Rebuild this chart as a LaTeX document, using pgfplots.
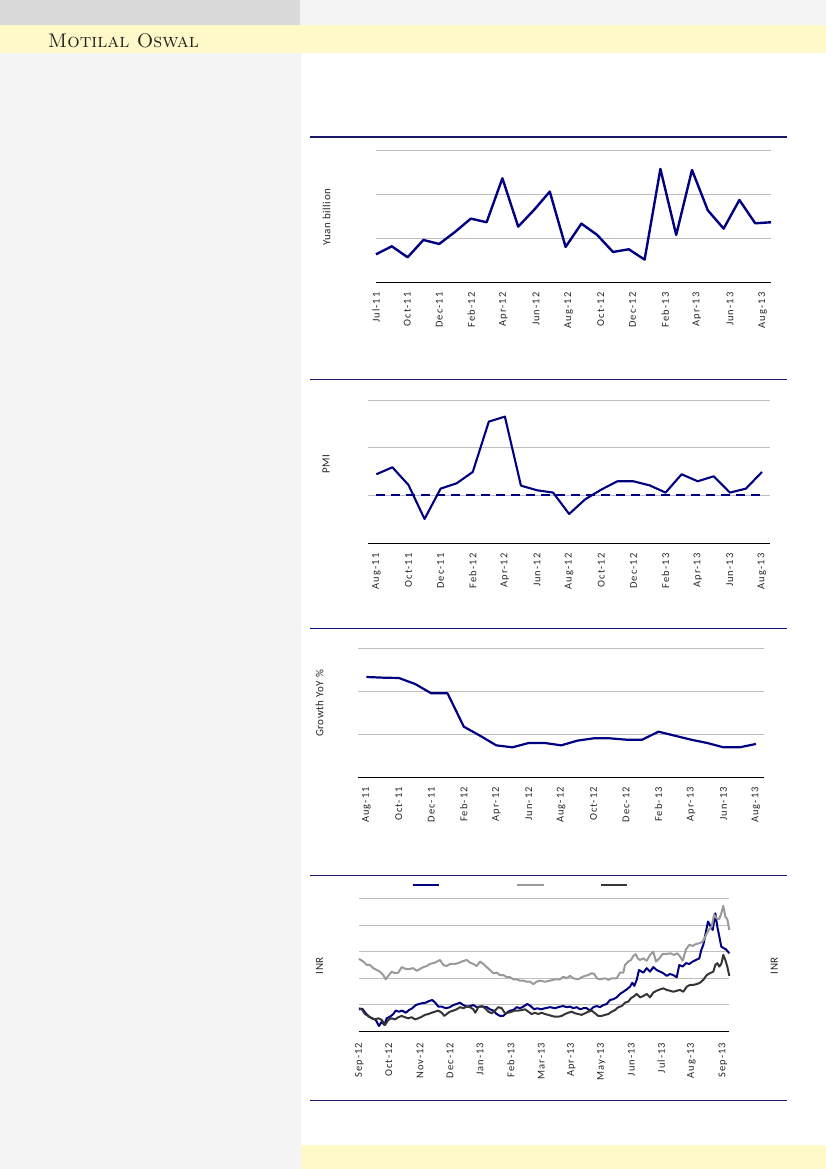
\documentclass[border=0pt]{standalone}
\usepackage{fontspec}
\usepackage{pgfplots}
\pgfplotsset{compat=1.18}
\newfontfamily\tickfont[LetterSpace=10]{Carlito}
\newfontfamily\labfont[LetterSpace=5]{Carlito}
\definecolor{navy}{HTML}{000080}
\definecolor{rulenavy}{HTML}{1A1866}
\definecolor{rulenavyb}{HTML}{0D0D85}
\definecolor{gridgray}{HTML}{BFBFBF}
\definecolor{sidegray}{HTML}{F4F4F4}
\definecolor{topgray}{HTML}{DADADA}
\definecolor{banner}{HTML}{FFF8C8}
\definecolor{ltgray}{HTML}{9A9A9A}
\definecolor{dkgray}{HTML}{353535}
\definecolor{headtext}{HTML}{231F20}

\pgfplotsset{
  mos/.style={
    scale only axis,
    axis line style={draw=none},
    major tick length=0pt,
    ymajorgrids,
    grid style={gridgray, line width=0.9pt},
    ytick={1,2,3},
    yticklabels={},
    xticklabel shift=10pt,
    xticklabel style={rotate=90, anchor=east, inner sep=0pt,
      font=\tickfont\fontsize{10.5}{12}\selectfont, text=black!85},
    ylabel style={font=\labfont\fontsize{11}{13}\selectfont, text=black!85, anchor=center},
    clip=false,
  },
}

\begin{document}
\begin{tikzpicture}
\useasboundingbox (0,0) rectangle (826pt,1169pt);
% page background
\fill[white] (0,0) rectangle (826pt,1169pt);
\fill[sidegray] (0,0) rectangle (301pt,1116pt);
\fill[topgray] (0,1144pt) rectangle (300pt,1169pt);
\fill[sidegray] (300pt,1144pt) rectangle (826pt,1169pt);
\fill[banner] (0,1116pt) rectangle (826pt,1144pt);
\fill[banner] (301pt,0) rectangle (826pt,24pt);
\node[anchor=base west, inner sep=0pt, text=headtext] at (47.7pt,1121.3pt)
  {\fontsize{19.6}{20}\selectfont\textsc{Motilal Oswal}};

% section rules
\draw[rulenavy, line width=1.3pt] (310pt,1032pt) -- (787pt,1032pt);
\draw[rulenavy, line width=1.3pt] (310pt,789.7pt) -- (787pt,789.7pt);
\draw[rulenavyb, line width=1.3pt] (310pt,540.7pt) -- (787pt,540.7pt);
\draw[rulenavy, line width=1.3pt] (310pt,293.7pt) -- (787pt,293.7pt);
\draw[rulenavy, line width=1.3pt] (310pt,68.3pt) -- (787pt,68.3pt);

% ---- chart 1: Yuan billion
\begin{axis}[mos, at={(376pt,886.7pt)}, anchor=south west,
  width=395pt, height=132pt,
  xmin=0, xmax=25, ymin=0, ymax=3,
  xtick={0,1.98,4.01,6.03,8.06,10.13,12.19,14.22,16.24,18.31,20.3,22.4,24.47},
  xticklabels={Jul-11,Oct-11,Dec-11,Feb-12,Apr-12,Jun-12,Aug-12,Oct-12,Dec-12,Feb-13,Apr-13,Jun-13,Aug-13},
  ylabel={Yuan billion},
  ylabel style={at={(axis description cs:-0.1248,0.492)}},
]
\draw[black, line width=0.9pt] (rel axis cs:0,0) -- (rel axis cs:1,0);
\addplot[navy, line width=2.4pt, line join=round] table {
x y
0 0.636
1 0.818
2 0.568
3 0.962
4 0.871
5 1.144
6 1.447
7 1.364
8 2.364
9 1.265
10 1.644
11 2.061
12 0.803
13 1.333
14 1.076
15 0.689
16 0.750
17 0.515
18 2.576
19 1.076
20 2.553
21 1.636
22 1.220
23 1.871
24 1.341
25 1.364
};
\end{axis}

% ---- chart 2: PMI
\begin{axis}[mos, at={(368.3pt,625.7pt)}, anchor=south west,
  width=401.7pt, height=143.3pt,
  xmin=-0.5, xmax=24.5, ymin=0, ymax=3,
  xtick={0,2,...,24},
  xticklabels={Aug-11,Oct-11,Dec-11,Feb-12,Apr-12,Jun-12,Aug-12,Oct-12,Dec-12,Feb-13,Apr-13,Jun-13,Aug-13},
  ylabel={PMI},
  ylabel style={at={(axis description cs:-0.105,0.555)}},
]
\draw[black, line width=0.9pt] (rel axis cs:0,0) -- (rel axis cs:1,0);
\addplot[navy, line width=1.2pt, dash pattern=on 9pt off 6pt] table {
x y
0 1.01
24.2 1.01
};
\addplot[navy, line width=2.1pt, line join=round] table {
x y
0 1.445
1 1.591
2 1.221
3 0.509
4 1.144
5 1.256
6 1.493
7 2.547
8 2.652
9 1.207
10 1.110
11 1.061
12 0.614
13 0.921
14 1.124
15 1.298
16 1.298
17 1.214
18 1.061
19 1.445
20 1.298
21 1.403
22 1.061
23 1.144
24 1.493
};
\end{axis}

% ---- chart 3: Growth YoY %
\begin{axis}[mos, at={(358.3pt,392pt)}, anchor=south west,
  width=405.7pt, height=128.3pt,
  xmin=-0.5, xmax=24.5, ymin=0, ymax=3,
  xtick={0,2,...,24},
  xticklabels={Aug-11,Oct-11,Dec-11,Feb-12,Apr-12,Jun-12,Aug-12,Oct-12,Dec-12,Feb-13,Apr-13,Jun-13,Aug-13},
  ylabel={Growth YoY \%},
  ylabel style={at={(axis description cs:-0.0956,0.574)}},
]
\draw[black, line width=0.9pt] (rel axis cs:0,0) -- (rel axis cs:1,0);
\addplot[navy, line width=2.2pt, line join=round] table {
x y
0 2.338
1 2.323
2 2.315
3 2.175
4 1.956
5 1.956
6 1.177
7 0.966
8 0.740
9 0.694
10 0.795
11 0.795
12 0.740
13 0.850
14 0.904
15 0.904
16 0.873
17 0.873
18 1.060
19 0.966
20 0.873
21 0.795
22 0.694
23 0.694
24 0.772
};
\end{axis}

% ---- chart 4: INR
\begin{axis}[mos, at={(359.3pt,137.7pt)}, anchor=south west,
  width=370pt, height=132.6pt,
  xmin=359.3, xmax=729.3, ymin=0, ymax=5,
  ytick={1,2,3,4,5},
  xtick={359.3,388.7,420,450,480,510.7,541.3,571.3,601.3,631.3,661.3,691.3,722.7},
  xticklabels={Sep-12,Oct-12,Nov-12,Dec-12,Jan-13,Feb-13,Mar-13,Apr-13,May-13,Jun-13,Jul-13,Aug-13,Sep-13},
  xticklabel shift=11.4pt,
  ylabel={INR},
  ylabel style={at={(axis description cs:-0.1076,0.495)}},
  legend columns=3,
  legend style={draw=none, fill=none, inner sep=0pt, outer sep=0pt,
    at={(axis description cs:0.1416,1.101)}, anchor=west,
    nodes={inner sep=0pt, outer sep=0pt},
    /tikz/every even column/.append style={column sep=0pt}},
  legend image code/.code={\draw[#1] (0pt,0pt) -- (26.6pt,0pt);},
]
\draw[black, line width=0.9pt] (rel axis cs:0,0) -- (rel axis cs:1,0);
\node[rotate=90, font=\labfont\fontsize{11}{13}\selectfont, text=black!85]
  at (axis description cs:1.122,0.495) {INR};
\addplot[navy, line width=2pt, line join=round] table {
x y
359 0.83
362.3 0.85
365.7 0.68
369 0.55
372.3 0.49
375.7 0.43
379 0.20
381.7 0.36
384.3 0.24
386.7 0.49
390 0.55
393.3 0.65
395.7 0.78
399 0.74
402.3 0.78
405.7 0.70
409 0.80
412.3 0.87
415.7 0.99
419 1.03
422.3 1.06
425.7 1.08
429 1.14
432.3 1.18
435.7 1.06
438.3 0.93
441.7 0.93
445.7 0.87
450 0.91
453.3 0.99
456.7 1.03
460 1.08
463.3 0.99
466.7 0.93
470 0.95
473.3 0.99
476.7 0.91
480 0.93
483.3 0.93
486.7 0.91
490 0.83
493.3 0.78
496.7 0.65
500 0.58
503.3 0.58
506.7 0.70
510 0.78
513.3 0.80
516.7 0.91
520 0.87
523.3 0.93
527.3 1.03
530.7 0.95
534 0.83
537.3 0.87
540.7 0.83
545 0.87
550 0.91
555 0.87
560 0.93
563.3 0.95
566.7 0.91
570 0.93
573.3 0.87
576.7 0.91
580 0.83
583.3 0.87
586.7 0.87
590 0.78
593.3 0.91
596.7 0.95
600 0.91
603.3 0.99
606.7 1.03
610 1.18
613.3 1.21
616.7 1.28
620 1.41
623.3 1.49
626.7 1.58
630 1.68
632.3 1.83
634.3 1.71
636.7 1.94
639 2.31
643.3 2.21
646.7 2.38
650 2.25
653.3 2.42
656.7 2.31
660 2.25
663.3 2.19
666.7 2.09
670 2.16
673.3 2.12
676.7 2.04
679.3 2.50
682.7 2.44
686 2.57
689.3 2.54
692.7 2.63
696 2.69
699.3 2.75
701.3 3.07
703.3 3.26
705.3 3.63
708 4.14
710.7 3.95
712.7 3.82
715.3 4.45
717.3 3.95
719.3 3.57
721.3 3.19
724 3.13
726 3.09
729.3 2.94
};
\addlegendentry{\hspace*{76pt}}
\addplot[ltgray, line width=2pt, line join=round] table {
x y
359 2.73
363.3 2.63
366.7 2.50
370 2.50
373.3 2.38
376.7 2.31
380 2.25
383.3 2.12
385.7 1.96
388.3 2.09
391.7 2.25
395 2.19
398.3 2.21
401.7 2.42
405 2.36
408.3 2.34
413.3 2.38
416.7 2.28
420 2.35
423.3 2.42
426.7 2.46
430 2.54
435 2.59
440 2.69
443.3 2.50
446.7 2.46
450 2.54
455 2.54
458.3 2.57
461.7 2.63
466.7 2.69
470 2.59
473.3 2.54
476.7 2.46
480 2.63
483.3 2.54
486.7 2.42
490 2.31
493.3 2.19
496.7 2.21
500 2.12
503.3 2.12
506.7 2.04
510 2.04
513.3 1.96
516.7 1.96
520 1.91
523.3 1.91
526.7 1.87
530 1.87
533.3 1.78
536.7 1.87
540 1.91
545 1.87
550 1.91
555 1.96
560 1.96
563.3 2.06
566.7 2.00
570 2.09
573.3 2.00
578.3 1.96
581.7 2.04
585 2.09
588.3 2.12
591.7 2.19
594.3 2.16
596.7 2.00
600 1.96
605 2.00
608.3 1.94
611.7 2.00
616.7 2.00
620 2.21
623.3 2.21
625 2.50
628.3 2.63
631 2.69
633.3 2.84
635.7 2.91
637.7 2.75
640 2.69
643.3 2.75
646.7 2.66
650 2.88
653.3 3.00
656 2.63
659.3 2.75
662.7 2.92
666.7 2.92
670.7 2.94
674 2.88
677.3 2.94
680 2.82
682.7 2.66
686 3.09
689.3 3.26
692.7 3.22
696 3.29
699.3 3.32
702.7 3.38
706 3.63
708.7 3.82
711.7 3.95
714 4.39
716.7 4.26
719.3 4.23
721.3 4.45
723.3 4.73
725.3 4.32
727.3 4.23
729.3 3.82
};
\addlegendentry{\hspace*{55pt}}
\addplot[dkgray, line width=2pt, line join=round] table {
x y
359 0.87
361.7 0.83
365 0.65
368.3 0.58
371.7 0.49
375 0.45
378.3 0.49
381.7 0.43
385 0.24
388.3 0.43
391.7 0.49
395 0.45
398.3 0.53
401.7 0.58
405 0.53
408.3 0.49
411.7 0.53
415 0.45
418.3 0.49
421.7 0.55
425 0.62
428.3 0.65
431.7 0.70
435 0.74
438.3 0.78
441.7 0.70
444.3 0.58
447.7 0.68
450 0.74
453.3 0.78
456.7 0.83
460 0.91
463.3 0.87
466.7 0.93
470 0.91
473.3 0.83
475.3 0.70
478.3 0.91
481.7 0.95
485 0.87
488.3 0.74
491.7 0.68
495 0.78
498.3 0.91
501.7 0.87
505 0.68
508.3 0.70
511.7 0.74
515 0.78
518.3 0.78
521.7 0.80
525 0.83
528.3 0.74
531.7 0.65
535 0.70
538.3 0.65
541.7 0.70
545 0.65
548.3 0.62
551.7 0.58
555 0.55
558.3 0.55
561.7 0.58
565 0.65
568.3 0.70
571.7 0.74
575 0.68
578.3 0.65
581.7 0.62
585 0.68
588.3 0.74
591.7 0.78
595 0.68
598.3 0.58
601.7 0.58
605 0.62
608.3 0.65
611.7 0.74
615 0.80
618.3 0.91
621.7 0.95
625 1.08
628.3 1.12
631 1.25
634.3 1.33
636.7 1.41
640 1.28
643.3 1.33
646.7 1.41
650 1.28
653.3 1.46
656.7 1.53
660 1.58
663.3 1.62
666.7 1.56
670 1.53
673.3 1.49
676.7 1.53
680 1.56
683.3 1.49
686.7 1.68
690 1.75
693.3 1.75
696.7 1.78
700 1.83
703.3 1.94
706.7 2.12
710 2.19
713.3 2.25
715.3 2.50
717.3 2.57
719.3 2.44
721.3 2.54
723.3 2.88
725.3 2.69
727.3 2.44
729.3 2.09
};
\addlegendentry{}
\end{axis}
\end{tikzpicture}
\end{document}
